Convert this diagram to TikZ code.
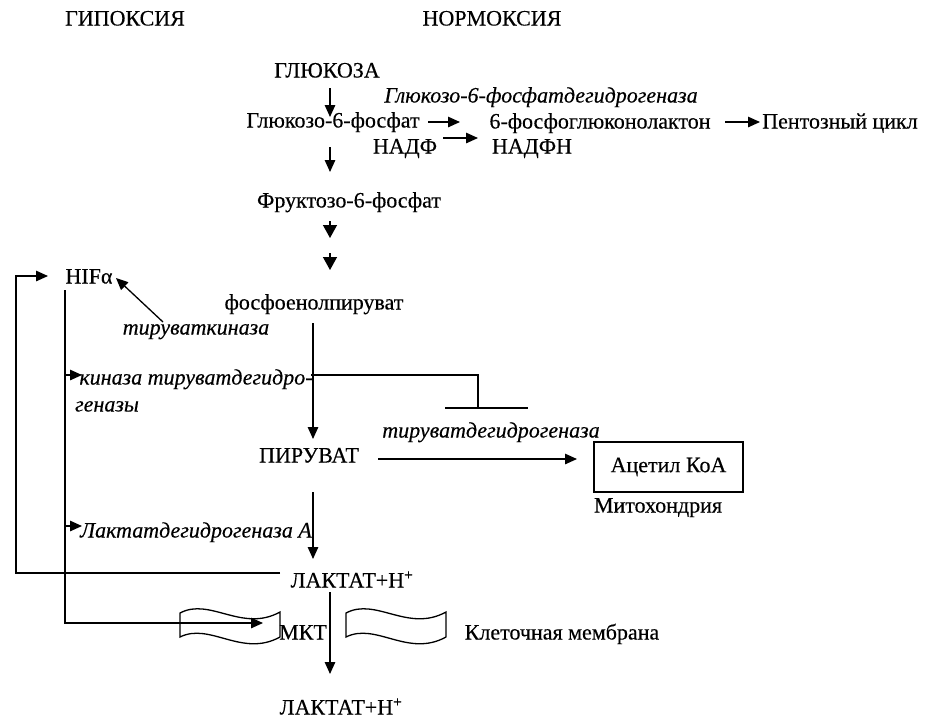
\documentclass[tikz,border=0pt]{standalone}
\usepackage{fontspec}
\setmainfont{Liberation Serif}[FakeBold=0.35,ItalicFeatures={FakeBold=0.35}]
\usetikzlibrary{arrows.meta,calc}
\begin{document}
\begin{tikzpicture}[x=1pt,y=-1pt,
  lbl/.style={inner sep=0pt,text height=15pt,text depth=0pt,font=\fontsize{22}{26}\selectfont},
  ilbl/.style={lbl,font=\fontsize{22}{26}\selectfont\itshape},
  arr/.style={-{Triangle[length=12pt,width=10.5pt]},line width=1.3pt},
  bigtip/.style={-{Triangle[length=13pt,width=14pt]},line width=1.3pt},
  ln/.style={line width=1.3pt},
  boxnode/.style={draw,line width=1.3pt,inner sep=0pt,minimum width=149pt,minimum height=50pt,font=\fontsize{22}{26}\selectfont},
  membr/.style={line width=1.3pt}]
\useasboundingbox (0,0) rectangle (926,718);
% texts
\node[lbl] (hyp) at (125,18) {ГИПОКСИЯ};
\node[lbl] (norm) at (492,18) {НОРМОКСИЯ};
\node[lbl] (glc) at (327,70) {ГЛЮКОЗА};
\node[ilbl] (g6pdh) at (541,95) {Глюкозо-6-фосфатдегидрогеназа};
\node[lbl] (g6p) at (333,120) {Глюкозо-6-фосфат};
\node[lbl] (pgl) at (600,121) {6-фосфоглюконолактон};
\node[lbl] (pent) at (840,121) {Пентозный цикл};
\node[lbl] (nadp) at (405,146) {НАДФ};
\node[lbl] (nadph) at (532,146) {НАДФН};
\node[lbl] (f6p) at (349,200) {Фруктозо-6-фосфат};
\node[lbl] (hif) at (89,276) {HIFα};
\node[lbl] (pep) at (314,302) {фосфоенолпируват};
\node[ilbl] (pk) at (196,327) {тируваткиназа};
\node[ilbl] (pdk) at (196,377) {киназа тируватдегидро-};
\node[ilbl] (pdkb) at (107,404) {геназы};
\node[ilbl] (pdh) at (491,430) {тируватдегидрогеназа};
\node[lbl] (pyr) at (309,455) {ПИРУВАТ};
\node[boxnode] (acoa) at (668.5,467) {Ацетил КоА};
\node[lbl] (mito) at (658,505) {Митохондрия};
\node[ilbl] (ldh) at (196,530) {Лактатдегидрогеназа А};
\node[lbl] (lac) at (352,580) {ЛАКТАТ+H\textsuperscript{+}};
\node[lbl] (mct) at (303,632) {МКТ};
\node[lbl] (mem) at (562,632) {Клеточная мембрана};
\node[lbl] (lac2) at (341,707) {ЛАКТАТ+H\textsuperscript{+}};
% membranes
\foreach \xa in {180,346}{
  \draw[membr] (\xa,613) .. controls (\xa+30,597) and (\xa+62,633) .. (\xa+100,612)
    -- (\xa+100,637) .. controls (\xa+62,658) and (\xa+30,622) .. (\xa,637) -- cycle;
}
% connectors
\draw[arr] ($(glc.center)+(3,18)$) -- ($(g6p.center)+(-3,-3)$);
\draw[arr] ($(g6p.center)+(95,2)$) -- ($(pgl.center)+(-140,1)$);
\draw[arr] ($(nadp.center)+(38,-8)$) -- ($(nadph.center)+(-54,-8)$);
\draw[arr] ($(pgl.center)+(125,1)$) -- ($(pent.center)+(-80,1)$);
\draw[arr] ($(g6p.center)+(-3,27)$) -- ($(f6p.center)+(-19,-28)$);
\draw[bigtip] ($(f6p.center)+(-19,21)$) -- ($(f6p.center)+(-19,38)$);
\draw[bigtip] ($(pep.center)+(16,-49)$) -- ($(pep.center)+(16,-32)$);
\draw[arr] ($(lac.center)+(-72,-7)$) -| ($(hif.center)+(-73,0)$) -- ($(hif.center)+(-41,0)$);
\draw[arr] ($(hif.center)+(-24,14)$) |- ($(mct.center)+(-40,-9)$);
\draw[arr] ($(pdk.center)+(-131,-2)$) -- ($(pdk.center)+(-114,-2)$);
\draw[arr] ($(ldh.center)+(-131,-4)$) -- ($(ldh.center)+(-114,-4)$);
\draw[arr] ($(pk.center)+(-33,-5)$) -- ($(hif.center)+(27,2)$);
\draw[arr] ($(pep.center)+(-1,21)$) -- ($(pyr.center)+(4,-16)$);
\draw[ln] ($(pdk.center)+(115,-2)$) -| ($(pdh.center)+(-13,-22)$);
\draw[ln] ($(pdh.center)+(-46,-22)$) -- ($(pdh.center)+(37,-22)$);
\draw[arr] ($(pyr.center)+(69,4)$) -- ($(acoa.center)+(-91.5,-8)$);
\draw[arr] ($(pyr.center)+(4,37)$) -- ($(lac.center)+(-39,-21)$);
\draw[arr] ($(lac.center)+(-22,12)$) -- ($(lac2.center)+(-11,-33)$);
\end{tikzpicture}
\end{document}
